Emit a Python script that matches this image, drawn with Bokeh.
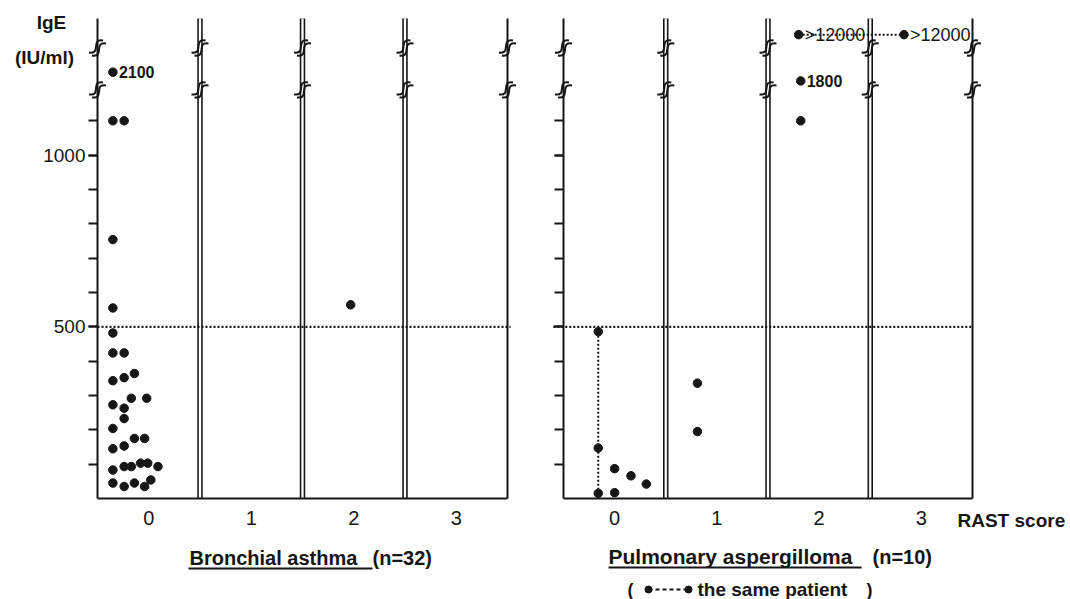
import numpy as np
from bokeh.plotting import figure
from bokeh.layouts import row
from bokeh.models import Range1d, FixedTicker, Label, LabelSet, ColumnDataSource
from bokeh.core.properties import value
from bokeh.embed import file_html
from bokeh.resources import INLINE

# ---------------- data ----------------
rast_ticks = [0, 1, 2, 3]
rast_labels = ["0", "1", "2", "3"]
ige_major_ticks = [500, 1000]
ige_minor_ticks = [100, 200, 300, 400, 500, 600, 700, 800, 900, 1000, 1100]
cutoff_ige = 500

# Bronchial asthma (n=32): RAST score (with the horizontal spread of the dots) and IgE (IU/ml)
ba_rast = [-0.35, -0.35, -0.24, -0.35, -0.35, -0.35, -0.35, -0.24, -0.35, -0.24, -0.14,
           -0.35, -0.24, -0.17, -0.02, -0.24, -0.35, -0.35, -0.24, -0.14, -0.04,
           -0.35, -0.24, -0.17, -0.08, -0.01, 0.09, -0.35, -0.24, -0.14, -0.04, 0.02,
           1.97]
ba_ige = [2100, 1100, 1100, 754, 555, 482, 424, 424, 343, 352, 364,
          273, 263, 292, 292, 233, 204, 145, 153, 175, 175,
          83, 93, 93, 103, 103, 93, 45, 35, 45, 35, 54,
          564]
ba_note_rast = [-0.35]
ba_note_ige = [2100]
ba_note_text = ["2100"]

# Pulmonary aspergilloma (n=10)
pa_rast = [-0.16, -0.16, -0.16, 0.0, 0.16, 0.31, 0.0, 0.81, 0.81, 1.82, 1.82, 1.80, 2.83]
pa_ige = [486, 147, 15, 87, 66, 42, 17, 336, 195, 1100, 1800, 12000, 12000]
pa_same_rast = [[-0.16, -0.16], [1.80, 2.83]]
pa_same_ige = [[486, 15], [12000, 12000]]
pa_note_rast = [1.82]
pa_note_ige = [1800]
pa_note_text = ["1800"]
pa_big_rast = [1.80, 2.83]
pa_big_ige = [12000, 12000]
pa_big_text = [">12000", ">12000"]

# broken IgE axis: value -> drawing position
axis_value = [0, 1150, 1750, 2150, 12000]
axis_pos = [0, 1150, 1212, 1246, 1351]
break_pos = [1190, 1312]
Y_TOP = 1398


def disp(v):
    return np.interp(np.asarray(v, dtype=float), axis_value, axis_pos)


FONT = "'Liberation Sans', Arial, Helvetica, sans-serif"
INK = "#161616"

W, H = 535, 599
FRAME_BOTTOM = 498
SY = (FRAME_BOTTOM - 18) / Y_TOP  # px per display unit


def make_panel(axis_px, pxu, show_labels):
    # the frame covers the whole canvas; axes are pinned at fixed locations
    x0 = -0.5 - axis_px / pxu
    x1 = -0.5 + (W - axis_px) / pxu
    y0 = -(H - FRAME_BOTTOM) / SY
    y1 = FRAME_BOTTOM / SY
    p = figure(width=W, height=H, output_backend="svg", toolbar_location=None,
               x_range=Range1d(x0, x1), y_range=Range1d(y0, y1),
               min_border=0, min_border_left=0, min_border_right=0,
               min_border_top=0, min_border_bottom=0)
    p.grid.visible = False
    p.outline_line_color = None
    p.background_fill_color = "white"
    p.border_fill_color = "white"

    ya = p.yaxis[0]
    ya.fixed_location = -0.5
    ya.bounds = (0, Y_TOP)
    ya.ticker = FixedTicker(ticks=ige_major_ticks, minor_ticks=ige_minor_ticks)
    ya.axis_line_width = 2
    ya.axis_line_color = INK
    ya.major_tick_out = 9
    ya.major_tick_in = 0
    ya.minor_tick_out = 9
    ya.minor_tick_in = 0
    ya.major_tick_line_width = 2
    ya.minor_tick_line_width = 2
    ya.major_tick_line_color = INK
    ya.minor_tick_line_color = INK
    ya.major_label_standoff = 3
    ya.major_label_text_font = FONT
    ya.major_label_text_font_size = "19px"
    ya.major_label_text_color = INK
    if not show_labels:
        ya.major_label_overrides = {t: "" for t in ige_major_ticks}

    xa = p.xaxis[0]
    xa.fixed_location = 0
    xa.bounds = (-0.5, 3.5)
    xa.ticker = FixedTicker(ticks=rast_ticks)
    xa.major_label_overrides = {t: l for t, l in zip(rast_ticks, rast_labels)}
    xa.axis_line_width = 2
    xa.axis_line_color = INK
    xa.major_tick_out = 0
    xa.major_tick_in = 0
    xa.minor_tick_out = 0
    xa.minor_tick_in = 0
    xa.major_label_standoff = 12
    xa.major_label_text_font = FONT
    xa.major_label_text_font_size = "20px"
    xa.major_label_text_color = INK

    # double boundary lines between RAST classes, single line at the right end
    bx = [0.5, 1.5, 2.5]
    p.segment(x0=bx, y0=[0] * 3, x1=bx, y1=[Y_TOP] * 3, line_color=INK, line_width=5.5)
    p.segment(x0=bx, y0=[0] * 3, x1=bx, y1=[Y_TOP] * 3, line_color="white", line_width=2.3)
    p.segment(x0=[3.5], y0=[0], x1=[3.5], y1=[Y_TOP], line_color=INK, line_width=2)

    # axis break marks (double S strokes) on every vertical line
    dx = 1 / pxu
    dy = 1 / SY
    lines_x = [-0.5, 0.5, 1.5, 2.5, 3.5]
    for bp in break_pos:
        for sh in (-1.5, 1.5):
            d = dict(x0=[], y0=[], x1=[], y1=[], cx0=[], cy0=[], cx1=[], cy1=[])
            for lx_ in lines_x:
                cx = lx_ + sh * dx
                cy = bp - sh * dy
                d["x0"].append(cx - 7 * dx); d["y0"].append(cy - 6 * dy)
                d["cx0"].append(cx + 6 * dx); d["cy0"].append(cy - 8 * dy)
                d["cx1"].append(cx - 6 * dx); d["cy1"].append(cy + 8 * dy)
                d["x1"].append(cx + 7 * dx); d["y1"].append(cy + 6 * dy)
            p.bezier(line_color=INK, line_width=2, **d)

    return p


L_AXIS, L_PXU = 97, 102.5
R_AXIS, R_PXU = 28, 102.25   # right panel axis at 563 px of the page (535 + 28)

left = make_panel(L_AXIS, L_PXU, True)
right = make_panel(R_AXIS, R_PXU, False)

# 500 IU/ml reference lines
left.segment(x0=[-0.5], y0=[cutoff_ige], x1=[3.53], y1=[cutoff_ige],
             line_color=INK, line_width=2.2, line_dash="2 2")
right.segment(x0=[-0.6], y0=[cutoff_ige], x1=[3.5], y1=[cutoff_ige],
              line_color=INK, line_width=2.2, line_dash="2 2")

# dots
left.scatter(ba_rast, disp(ba_ige), size=8.5, color=INK)
right.multi_line(xs=pa_same_rast, ys=[list(disp(v)) for v in pa_same_ige],
                 line_color=INK, line_width=2, line_dash="2 2")
right.scatter(pa_rast, disp(pa_ige), size=8.5, color=INK)


def notes(p, xs, ys, ts, size, style):
    src = ColumnDataSource(dict(x=xs, y=list(disp(ys)), t=ts))
    p.add_layout(LabelSet(x="x", y="y", text="t", source=src, x_offset=6,
                          text_font=value(FONT), text_font_size=value(f"{size}px"),
                          text_font_style=value(style),
                          text_baseline="middle", text_align="left", text_color=INK))


notes(left, ba_note_rast, ba_note_ige, ba_note_text, 16, "bold")
notes(right, pa_note_rast, pa_note_ige, pa_note_text, 16, "bold")
notes(right, pa_big_rast, pa_big_ige, pa_big_text, 18, "normal")


# texts around the panels (given as page pixels of the reference, turned into data units)
def to_xy(px, py, axis_px, pxu):
    return -0.5 + (px - axis_px) / pxu, (FRAME_BOTTOM - py) / SY


def lab(p, text, px, py, size, axis_px, pxu, bold=True, align="left"):
    x, y = to_xy(px, py, axis_px, pxu)
    p.add_layout(Label(x=x, y=y, text=text, text_font=FONT, text_font_size=f"{size}px",
                       text_font_style="bold" if bold else "normal", text_align=align,
                       text_baseline="middle", text_color=INK))


def hline(p, px0, px1, py, axis_px, pxu, dash="solid", width=2):
    x0, y0 = to_xy(px0, py, axis_px, pxu)
    x1, _ = to_xy(px1, py, axis_px, pxu)
    p.segment(x0=[x0], y0=[y0], x1=[x1], y1=[y0], line_color=INK, line_width=width,
              line_dash=dash)


lab(left, "IgE", 51, 22, 19, L_AXIS, L_PXU, align="center")
lab(left, "(IU/ml)", 44, 57, 19, L_AXIS, L_PXU, align="center")
lab(left, "Bronchial  asthma", 189, 557, 20, L_AXIS, L_PXU)
lab(left, "(n=32)", 372, 557, 20, L_AXIS, L_PXU)
hline(left, 188, 372, 568, L_AXIS, L_PXU)

# right panel: page px minus 535
OFF = 535
lab(right, "RAST score", 957 - OFF, 520, 19, R_AXIS, R_PXU)
lab(right, "Pulmonary  aspergilloma", 608 - OFF, 556, 21, R_AXIS, R_PXU)
lab(right, "(n=10)", 872 - OFF, 556, 20, R_AXIS, R_PXU)
hline(right, 608 - OFF, 861 - OFF, 567, R_AXIS, R_PXU)

# legend: ( dot----dot the same patient )
lab(right, "(", 627 - OFF, 589, 18, R_AXIS, R_PXU)
lab(right, ")", 866 - OFF, 589, 18, R_AXIS, R_PXU)
lab(right, "the same patient", 697 - OFF, 589, 19, R_AXIS, R_PXU)
hline(right, 648 - OFF, 688 - OFF, 589, R_AXIS, R_PXU, dash="4 3", width=2)
lx0, ly0 = to_xy(648 - OFF, 589, R_AXIS, R_PXU)
lx1, _ = to_xy(688 - OFF, 589, R_AXIS, R_PXU)
right.scatter([lx0, lx1], [ly0, ly0], size=7, color=INK)

layout = row(left, right)
open("out.html", "w").write(file_html(layout, INLINE))
